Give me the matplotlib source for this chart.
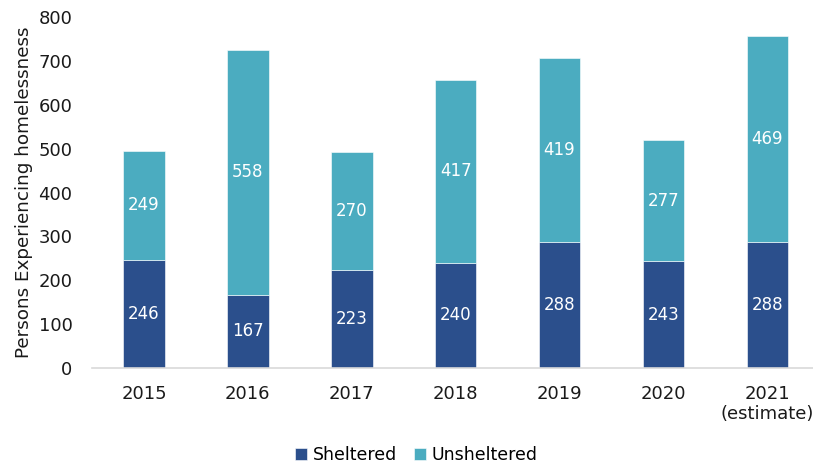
import matplotlib.pyplot as plt
import numpy as np

# data
years = ['2015', '2016', '2017', '2018', '2019', '2020', '2021\n(estimate)']
sheltered = np.array([246, 167, 223, 240, 288, 243, 288])
unsheltered = np.array([249, 558, 270, 417, 419, 277, 469])

dark_blue = '#2B4F8C'
teal = '#4BACC0'

fig = plt.figure(figsize=(8.13, 4.66), dpi=100)
ax = fig.add_axes([92 / 813, 98 / 466, (813 - 92) / 813, 351 / 466])

x = np.arange(len(years))
b1 = ax.bar(x, sheltered, width=0.4, color=dark_blue, edgecolor='white', linewidth=0.4, label='Sheltered')
b2 = ax.bar(x, unsheltered, width=0.4, bottom=sheltered, color=teal, edgecolor='white', linewidth=0.4, label='Unsheltered')

# value labels in the middle of each segment
for i in range(len(x)):
    ax.text(x[i], sheltered[i] / 2, f'{sheltered[i]}', ha='center', va='center', fontsize=12, color='white')
    ax.text(x[i], sheltered[i] + unsheltered[i] / 2, f'{unsheltered[i]}', ha='center', va='center', fontsize=12, color='white')

ax.set_xlim(-0.5, 6.44)
ax.set_ylim(0, 800)
ax.set_yticks(np.arange(0, 801, 100))
ax.set_xticks(x)
ax.set_xticklabels(years)
ax.tick_params(axis='both', length=0, labelsize=13, colors='#1a1a1a')
ax.tick_params(axis='y', pad=14)
ax.tick_params(axis='x', pad=12)

for s in ['top', 'right', 'left']:
    ax.spines[s].set_visible(False)
ax.spines['bottom'].set_color('#d9d9d9')
ax.spines['bottom'].set_linewidth(1.2)

ax.set_ylabel('Persons Experiencing homelessness', fontsize=13.2, color='#1a1a1a', labelpad=4)

fig.legend(handles=[b1, b2], loc='center', bbox_to_anchor=(0.512, 1 - 455 / 466), ncol=2, frameon=False,
           fontsize=12.5, handlelength=0.7, handleheight=0.7, handletextpad=0.3, columnspacing=1.0)

fig.savefig('out.png', dpi=100)
